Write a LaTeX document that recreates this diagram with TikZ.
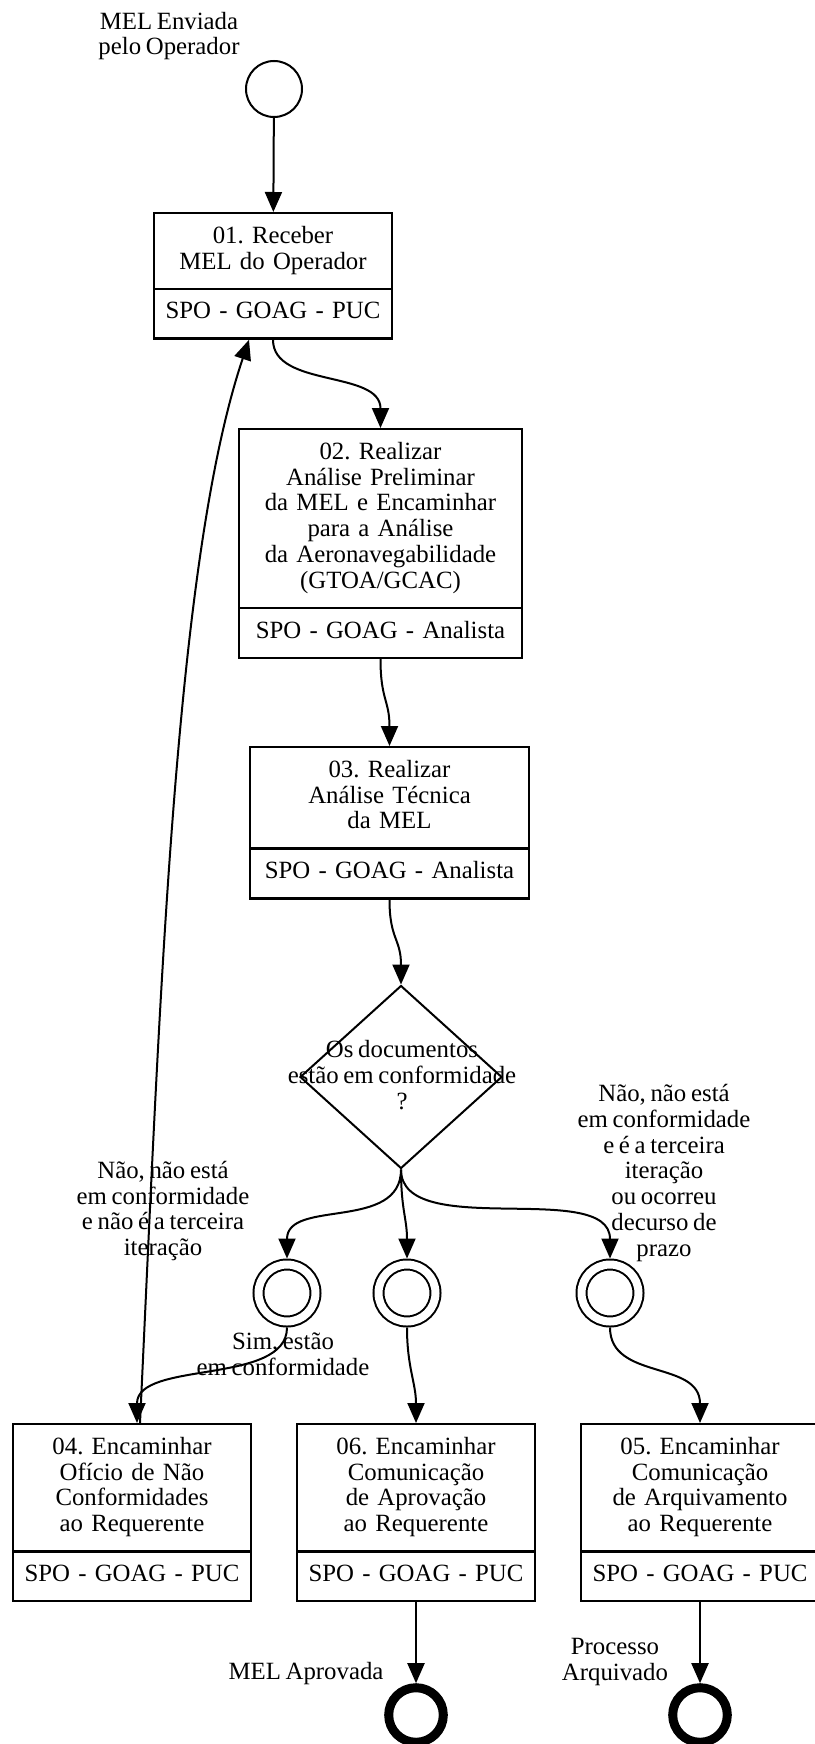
\documentclass[tikz,border=0pt]{standalone}
\usepackage{fontspec}
\setmainfont{Liberation Serif}
\usetikzlibrary{arrows.meta,shapes.multipart,shapes.geometric}

% Text of the diagram, with a narrower word space.
\newcommand{\fonte}{\fontsize{12.4}{12.9}\selectfont\frenchspacing
    \spaceskip 0.19em plus 0.1em\relax}

% Activity box: title on top, responsible unit below.
\newcommand{\atividade}[2]{\strut #1\strut\nodepart{two}\strut #2\strut}

\tikzset{
    tarefa/.style={rectangle split, rectangle split parts=2, draw,
        line width=1.2pt, align=center, anchor=north,
        inner xsep=4pt, inner ysep=5.4pt},
    inicio/.style={circle, draw, minimum size=28pt, inner sep=0pt},
    intermed/.style={circle, draw, double, double distance=4pt,
        minimum size=28.5pt, inner sep=0pt, outer sep=3pt},
    fim/.style={circle, draw, line width=4.5pt, minimum size=27.3pt,
        inner sep=0pt},
    decisao/.style={diamond, draw, minimum width=101pt,
        minimum height=91.5pt, inner sep=0pt},
    rotulo/.style={align=center, inner sep=0pt}
}

\begin{document}
\begin{tikzpicture}[x=0.5pt, y=-0.5pt, line width=1pt,
    >={Triangle[length=10pt,width=8.5pt]}, font=\fonte]

        \useasboundingbox (0,0) rectangle (814,1744);

        % Start event.
        \node[inicio] (ini) at (274,89) {};
        \node[rotulo] (iniTxt) at (169,36) {MEL Enviada\\pelo Operador};

        % Activities down the middle.
        \node[tarefa, text width=111pt] (b01) at (273,212)
            {\atividade{01. Receber\\MEL do Operador}{SPO - GOAG - PUC}};
        \node[tarefa, text width=133.5pt] (b02) at (380.5,428)
            {\atividade{02. Realizar\\Análise Preliminar\\da MEL e Encaminhar\\para a Análise\\da Aeronavegabilidade\\(GTOA/GCAC)}{SPO - GOAG - Analista}};
        \node[tarefa, text width=131.5pt] (b03) at (389.5,746)
            {\atividade{03. Realizar\\Análise Técnica\\da MEL}{SPO - GOAG - Analista}};

        % Decision.
        \node[decisao] (dec) at (401,1077) {};
        \node[rotulo] (decTxt) at (402,1075)
            {Os documentos\\estão em conformidade\\?};

        % Intermediate events.
        \node[intermed] (dc1) at (287,1293) {};
        \node[intermed] (dc2) at (407,1293) {};
        \node[intermed] (dc3) at (610,1293) {};

        % Activities at the bottom.
        \node[tarefa, text width=111pt] (b04) at (132,1423)
            {\atividade{04. Encaminhar\\Ofício de Não\\Conformidades\\ao Requerente}{SPO - GOAG - PUC}};
        \node[tarefa, text width=111pt] (b06) at (416,1423)
            {\atividade{06. Encaminhar\\Comunicação\\de Aprovação\\ao Requerente}{SPO - GOAG - PUC}};
        \node[tarefa, text width=111pt] (b05) at (700,1423)
            {\atividade{05. Encaminhar\\Comunicação\\de Arquivamento\\ao Requerente}{SPO - GOAG - PUC}};

        % End events.
        \node[fim] (fimA) at (416,1715) {};
        \node[fim] (fimB) at (700,1715) {};
        \node[rotulo] (fimATxt) at (306,1674) {MEL Aprovada};
        \node[rotulo] (fimBTxt) at (615,1662) {Processo\\Arquivado};

        % Edge labels.
        \node[rotulo] (lblNao) at (163,1211)
            {Não, não está\\em conformidade\\e não é a terceira\\iteração};
        \node[rotulo] (lblArq) at (664,1173)
            {Não, não está\\em conformidade\\e é a terceira\\iteração\\ou ocorreu\\decurso de\\prazo};
        \node[rotulo] (lblSim) at (283,1354) {Sim, estão\\em conformidade};

        % Flow.
        \draw[->] (ini) -- (b01);
        \draw[->] (b01.south) .. controls +(0,48) and +(0,-58) .. (b02.north);
        \draw[->] (b02.south) .. controls +(0,41) and +(0,-46) .. (b03.north);
        \draw[->] (b03.south) .. controls +(0,40) and +(0,-46) .. (dec.north);
        \draw[->] (dec.south) .. controls +(0,62) and +(0,-60) .. (dc1.north);
        \draw[->] (dec.south) .. controls +(0,40) and +(0,-40) .. (dc2.north);
        \draw[->] (dec.south) .. controls +(0,72) and +(0,-80) .. (dc3.north);
        \draw[->] (dc1.south) .. controls +(0,58) and +(0,-63) .. ([xshift=2.5pt]b04.north);
        \draw[->] (dc2.south) .. controls +(0,40) and +(0,-40) .. (b06.north);
        \draw[->] (dc3.south) .. controls +(0,53) and +(0,-63) .. (b05.north);

        % Back to the start when not in conformity.
        \draw[->] ([xshift=4pt]b04.north) .. controls (160,1000) and (175,560)
            .. ([xshift=-12pt]b01.south);

        \draw[->] (b06.south) -- (fimA.north);
        \draw[->] (b05.south) -- (fimB.north);
\end{tikzpicture}
\end{document}
